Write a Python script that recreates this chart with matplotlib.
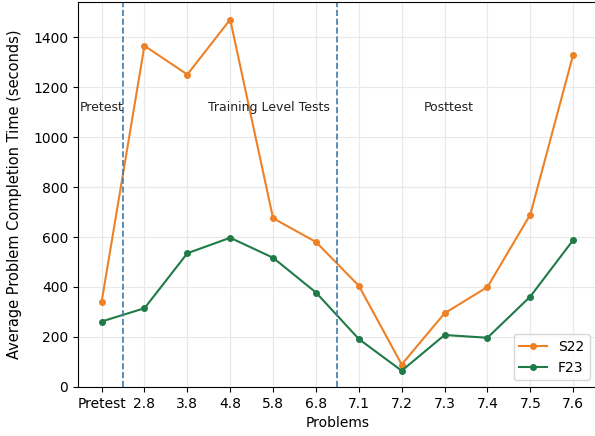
import matplotlib
matplotlib.use("Agg")
import matplotlib.pyplot as plt

# Problem order and average completion times (seconds)
problems = ['Pretest', '2.8', '3.8', '4.8', '5.8', '6.8', '7.1', '7.2', '7.3', '7.4', '7.5', '7.6']
s22_times = [340, 1365, 1250, 1470, 675, 580, 405, 90, 295, 400, 690, 1330]
f23_times = [262, 315, 535, 597, 517, 378, 192, 65, 208, 197, 362, 588]

# section boundaries and labels
section_bounds = [0.5, 5.5]
section_names = ['Pretest', 'Training Level Tests', 'Posttest']
section_pos = [0, 3.9, 8.1]

fig = plt.figure(figsize=(5.95, 4.36), dpi=100)
ax = fig.add_axes([78 / 595, 1 - 387 / 436, 1 - 78 / 595 + 0.003, 385 / 436])

x = list(range(len(problems)))
ax.plot(x, s22_times, 'o-', color='#ee8126', markersize=4, linewidth=1.5, label='S22')
ax.plot(x, f23_times, 'o-', color='#1f7a48', markersize=4, linewidth=1.5, label='F23')

for b in section_bounds:
    ax.axvline(b, color='#3f7cac', linestyle='--', linewidth=1.2)

for name, pos in zip(section_names, section_pos):
    ax.text(pos, 1120, name, ha='center', va='center', fontsize=9, color='#222222')

ax.set_xticks(x)
ax.set_xticklabels(problems, fontsize=10)
ax.tick_params(axis='y', labelsize=10)
ax.set_xlim(-0.55, 11.55)
ax.set_ylim(0, 1540)
ax.grid(True, color='#e8e8e8', linewidth=0.8)
ax.set_axisbelow(True)

ax.set_xlabel('Problems', fontsize=10)
ax.set_ylabel('Average Problem Completion Time (seconds)', fontsize=10.5, labelpad=8)
ax.legend(loc='lower right', fontsize=10)

fig.savefig('out.png', dpi=100)
